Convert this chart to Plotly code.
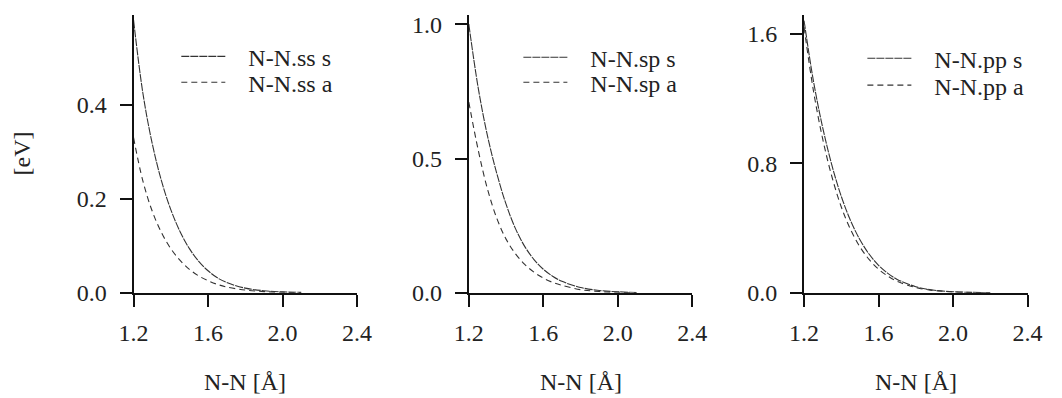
import plotly.graph_objects as go

W, H = 1062, 398

x_grid = [1.20, 1.25, 1.30, 1.35, 1.40, 1.45, 1.50, 1.55, 1.60, 1.65, 1.70, 1.80, 1.90, 2.00, 2.10]
x_grid3 = x_grid + [2.20]

ss_s = [0.58, 0.425, 0.318, 0.238, 0.177, 0.130, 0.094, 0.067, 0.047, 0.032, 0.022, 0.010, 0.0045, 0.002, 0.001]
ss_a = [0.33, 0.238, 0.174, 0.128, 0.094, 0.069, 0.050, 0.036, 0.026, 0.018, 0.0125, 0.006, 0.0027, 0.0012, 0.0005]
sp_s = [1.00, 0.765, 0.585, 0.445, 0.330, 0.240, 0.173, 0.124, 0.088, 0.062, 0.043, 0.020, 0.009, 0.004, 0.0015]
sp_a = [0.71, 0.533, 0.387, 0.278, 0.200, 0.146, 0.106, 0.077, 0.055, 0.039, 0.028, 0.012, 0.005, 0.002, 0.001]
pp_s = [1.68, 1.31, 1.02, 0.785, 0.595, 0.445, 0.328, 0.238, 0.170, 0.120, 0.083, 0.038, 0.016, 0.007, 0.003, 0.001]
pp_a = [1.64, 1.25, 0.95, 0.715, 0.53, 0.39, 0.284, 0.205, 0.146, 0.103, 0.071, 0.033, 0.014, 0.006, 0.002, 0.001]

names = [("N-N.ss s", "N-N.ss a"), ("N-N.sp s", "N-N.sp a"), ("N-N.pp s", "N-N.pp a")]
y_ranges = [[0, 0.592], [0, 1.036], [0, 1.718]]
y_ticks = [[0.0, 0.2, 0.4], [0.0, 0.5, 1.0], [0.0, 0.8, 1.6]]
y_ticktext = [["0.0", "0.2", "0.4"], ["0.0", "0.5", "1.0"], ["0.0", "0.8", "1.6"]]
x_ticks = [1.2, 1.6, 2.0, 2.4]
x_ticktext = ["1.2", "1.6", "2.0", "2.4"]
x_title = "N-N [Å]"
y_title = "[eV]"

FONT = "Liberation Serif"
FS = 24
TXT = "#222222"
LINE = "#333333"
PAD = "\u00a0\u00a0\u00a0"

panels_px = [(122, 352), (467, 697), (812, 1042)]
y_bottom_px, y_top_px = 302, 12
# legend box left x and row centre y per trace
legend_rows = [[(166, 56), (166, 83)], [(518, 57), (518, 83)], [(872, 58), (872, 86)]]

fig = go.Figure()
series = [(x_grid, ss_s, ss_a), (x_grid, sp_s, sp_a), (x_grid3, pp_s, pp_a)]
dashes = ["8px,1px", "6px,4px"]
layout = dict(width=W, height=H, margin=dict(l=0, r=0, t=0, b=0),
              paper_bgcolor="white", plot_bgcolor="white",
              font=dict(family=FONT, size=FS, color=TXT), showlegend=True)
k = 0
for i, (xs, s, a) in enumerate(series):
    xa = "x" if i == 0 else f"x{i+1}"
    ya = "y" if i == 0 else f"y{i+1}"
    for j, ys in enumerate([s, a]):
        lid = "legend" if k == 0 else f"legend{k+1}"
        fig.add_trace(go.Scatter(x=xs, y=ys, mode="lines", name=PAD + names[i][j], xaxis=xa, yaxis=ya,
                                 line=dict(color=LINE, width=1.1, dash=dashes[j], shape="spline", smoothing=1.0),
                                 legend=lid))
        lx, ly = legend_rows[i][j]
        layout[lid] = dict(x=lx / W, y=1 - ly / H, xanchor="left", yanchor="middle",
                           bgcolor="rgba(0,0,0,0)", font=dict(family=FONT, size=FS, color=TXT),
                           itemwidth=44)
        k += 1

ydom = [1 - y_bottom_px / H, 1 - y_top_px / H]
for i in range(3):
    xk = "xaxis" if i == 0 else f"xaxis{i+1}"
    yk = "yaxis" if i == 0 else f"yaxis{i+1}"
    x0, x1 = panels_px[i]
    layout[xk] = dict(domain=[x0 / W, x1 / W], range=[1.2, 2.4], tickvals=x_ticks, ticktext=x_ticktext,
                      showline=True, linecolor="#111111", linewidth=2, ticks="outside", ticklen=12,
                      tickwidth=2, tickcolor="#111111", showgrid=False, zeroline=False,
                      anchor="y" if i == 0 else f"y{i+1}", ticklabelstandoff=5,
                      tickfont=dict(family=FONT, size=FS, color=TXT))
    layout[yk] = dict(domain=ydom, range=y_ranges[i], tickvals=y_ticks[i], ticktext=y_ticktext[i],
                      showline=True, linecolor="#111111", linewidth=2, ticks="outside", ticklen=12,
                      tickwidth=2, tickcolor="#111111", showgrid=False, zeroline=False,
                      anchor="x" if i == 0 else f"x{i+1}", ticklabelstandoff=8,
                      tickfont=dict(family=FONT, size=FS, color=TXT))

fig.update_layout(**layout)

annotations = []
for i in range(3):
    x0, x1 = panels_px[i]
    annotations.append(dict(text=x_title, x=(x0 + x1) / 2 / W, y=1 - 395 / H, xref="paper", yref="paper",
                            showarrow=False, xanchor="center", yanchor="middle",
                            font=dict(family=FONT, size=FS, color=TXT)))
annotations.append(dict(text=y_title, x=7 / W, y=1 - 157 / H, xref="paper", yref="paper", textangle=-90,
                        showarrow=False, xanchor="center", yanchor="middle",
                        font=dict(family=FONT, size=FS, color=TXT)))
fig.update_layout(annotations=annotations)

fig.write_html("out.html")
